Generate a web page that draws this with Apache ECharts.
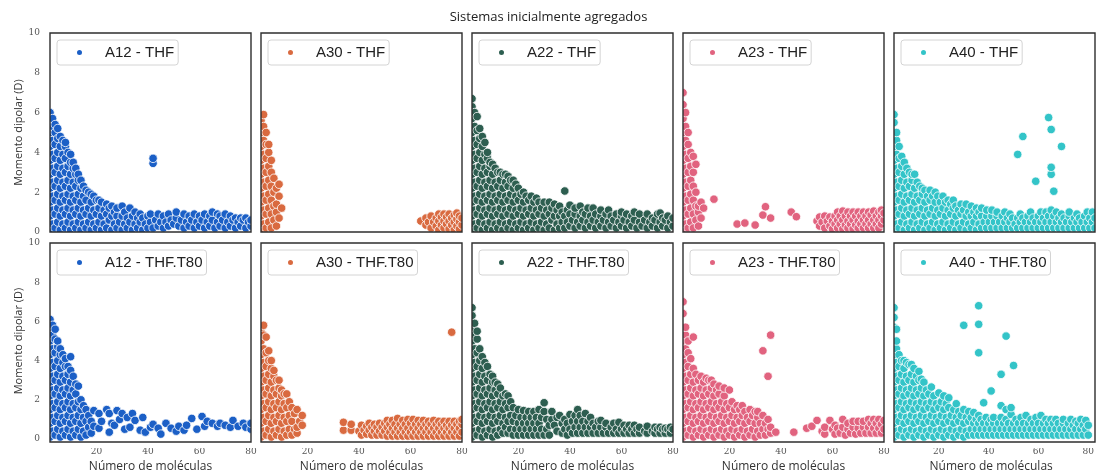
<!DOCTYPE html>
<html><head><meta charset="utf-8">
<script src="https://cdn.jsdelivr.net/npm/echarts@6/dist/echarts.min.js"></script>
<style>html,body{margin:0;padding:0;background:#fff}#c{width:1097px;height:474px}</style>
</head><body><div id="c"></div>
<script>
const TITLE = 'Sistemas inicialmente agregados';
const X_NAME = 'Número de moléculas';
const Y_NAME = 'Momento dipolar (D)';
const X_TICKS = [20, 40, 60, 80];
const PANEL_NAMES = ['A12 - THF','A30 - THF','A22 - THF','A23 - THF','A40 - THF',
  'A12 - THF.T80','A30 - THF.T80','A22 - THF.T80','A23 - THF.T80','A40 - THF.T80'];
const COLORS = ['#1b5fc6','#d96a40','#2d5e50','#e1637f','#33c4c8'];

// Each row: [número de moléculas, momento dipolar, momento dipolar, ...]
const A12_THF = [
[2,0.1,0.8,1.5,2.2,2.9,3.6,4.3,5.0,5.6,6.0],[3,0.4,1.1,1.8,2.5,3.2,3.9,4.6,5.3,5.7],[4,0.2,0.9,1.6,2.3,3.0,3.7,4.4,5.0,5.4],
[5,0.5,1.2,1.9,2.6,3.3,4.0,4.7,5.2],[6,0.1,0.8,1.5,2.2,2.9,3.6,4.3,4.8],[7,0.4,1.1,1.8,2.5,3.2,3.9,4.6],[8,0.2,0.9,1.6,2.3,3.0,3.7,4.3,4.5],
[9,0.5,1.2,1.9,2.6,3.3,4.0],[10,0.1,0.8,1.5,2.2,2.9,3.5,3.9],[11,0.4,1.1,1.8,2.5,3.2,3.5],[12,0.2,0.9,1.6,2.3,2.9,3.2],
[13,0.5,1.2,1.9,2.6,2.9],[14,0.1,0.8,1.5,2.2,2.6],[15,0.4,1.1,1.8,2.3],[16,0.2,0.9,1.6,2.1],[17,0.5,1.2,2.0],[18,0.1,0.8,1.5,1.9],
[19,0.4,1.1,1.8],[20,0.2,0.9,1.6],[21,0.5,1.2,1.6],[22,0.1,0.8,1.5],[23,0.4,1.1],[24,0.2,0.9,1.4],[25,0.6,1.2],[26,0.1,0.8,1.3],
[27,0.4,1.0],[28,0.2,0.8,1.2],[29,0.5],[30,0.1,0.8,1.3],[31,0.4,1.0],[32,0.2,0.7],[33,0.5,1.2],[34,0.1,0.8],[35,0.4,1.0],[36,0.2,0.7],
[37,0.5,0.9],[38,0.1,0.7],[39,0.4],[40,0.2,0.8],[41,0.5,0.9],[42,0.2,3.45,3.7],[43,0.6],[44,0.3,0.9],[45,0.5],[46,0.2,0.8],[47,0.5],
[48,0.3,0.9],[49,0.6],[50,0.4],[51,0.7,1.0],[52,0.3],[53,0.6],[54,0.2,0.9],[55,0.5],[56,0.3,0.8],[57,0.6],[58,0.2,0.9],[59,0.5],
[60,0.3,0.8],[61,0.6],[62,0.2,0.9],[63,0.5],[64,0.3,0.8],[65,0.6,1.0],[66,0.2],[67,0.5,0.9],[68,0.3,0.8],[69,0.6],[70,0.2,0.9],
[71,0.5],[72,0.3,0.8],[73,0.6],[74,0.2,0.7],[75,0.5],[76,0.3,0.7],[77,0.6],[78,0.2,0.7],[79,0.5],[80,0.3,0.6]];

const A30_THF = [
[2,0.1,0.8,1.5,2.2,2.9,3.6,4.3,5.0,5.6],[3,0.4,1.1,1.8,2.5,3.2,3.9,4.6,5.3,5.9],[4,0.2,0.9,1.6,2.3,3.0,3.7,4.4,5.0],
[5,0.5,1.2,1.9,2.6,3.3,4.0,4.4],[6,0.2,0.9,1.6,2.3,3.0,3.6],[7,0.6,1.3,2.0,2.7],[8,0.3,1.0,1.4,2.2],[9,0.7,1.8,2.4],[10,1.2],
[64,0.55],[66,0.35,0.7],[67,0.5],[68,0.2,0.8],[69,0.5],[70,0.3,0.7],[71,0.1,0.55,0.9],[72,0.35,0.75],[73,0.2,0.55,0.9],
[74,0.4,0.75],[75,0.15,0.55,0.9],[76,0.35,0.7],[77,0.1,0.5,0.85],[78,0.3,0.65,0.95],[79,0.15,0.5,0.8],[80,0.35,0.7]];

const A22_THF = [
[2,0.1,0.8,1.5,2.2,2.9,3.6,4.3,5.0,5.7,6.3,6.7],[3,0.4,1.1,1.8,2.5,3.2,3.9,4.6,5.3,6.0],[4,0.2,0.9,1.6,2.3,3.0,3.7,4.4,5.1,5.8],
[5,0.5,1.2,1.9,2.6,3.3,4.0,4.7,5.2],[6,0.1,0.8,1.5,2.2,2.9,3.6,4.3,4.8],[7,0.4,1.1,1.8,2.5,3.2,3.9,4.5],[8,0.2,0.9,1.6,2.3,3.0,3.7,4.0],
[9,0.5,1.2,1.9,2.6,3.3,3.5],[10,0.1,0.8,1.5,2.2,2.9,3.4],[11,0.4,1.1,1.8,2.5,3.2],[12,0.2,0.9,1.6,2.3,3.0],[13,0.5,1.2,1.9,2.6,3.0],
[14,0.1,0.8,1.5,2.2,2.9],[15,0.4,1.1,1.8,2.5,2.9],[16,0.2,0.9,1.6,2.3,2.8],[17,0.5,1.2,1.9,2.6],[18,0.1,0.8,1.5,2.2,2.6],
[19,0.4,1.1,1.8,2.4],[20,0.2,0.9,1.6,2.2],[21,0.5,1.2,1.9],[22,0.1,0.8,1.5,2.0],[23,0.4,1.1,1.8],[24,0.2,0.9,1.6],[25,0.5,1.2,1.8],
[26,0.1,0.8,1.5],[27,0.4,1.1,1.7],[28,0.2,0.9,1.5],[29,0.5,1.2],[30,0.1,0.8,1.5],[31,0.4,1.1],[32,0.2,0.9,1.5],[33,0.6,1.2],
[34,0.1,0.8,1.4],[35,0.4,1.1],[36,0.2,0.8,1.3],[37,0.5,1.0],[38,0.2,0.8,2.06],[39,0.5,1.1],[40,0.3,0.9,1.35],[41,0.6],[42,0.2,0.9,1.2],
[43,0.5],[44,0.3,0.8,1.3],[45,0.6,1.0],[46,0.2,0.9],[47,0.5,1.2],[48,0.3,0.8],[49,0.6,1.2],[50,0.2,0.9],[51,0.5],[52,0.3,0.8,1.1],
[53,0.6],[54,0.2,0.9],[55,0.5,1.1],[56,0.3,0.8],[57,0.6],[58,0.2,0.9],[59,0.5],[60,0.3,0.8,1.0],[61,0.6],[62,0.2,0.9],[63,0.5],
[64,0.3,0.8],[65,0.6,1.0],[66,0.2],[67,0.5,0.9],[68,0.3],[69,0.6],[70,0.2,0.9],[71,0.5],[72,0.3,0.7],[73,0.6],[74,0.2,0.9],
[75,0.5,0.95],[76,0.3,0.7],[77,0.6],[78,0.2,0.8],[79,0.5],[80,0.3,0.7]];

const A23_THF = [
[2,0.1,0.8,1.5,2.2,2.9,3.6,4.3,5.0,5.7,6.4,7.0],[3,0.4,1.1,1.8,2.5,3.2,3.9,4.6,5.3,6.0],[4,0.2,0.9,1.6,2.3,3.0,3.7,4.4,5.0],
[5,0.5,1.2,1.9,2.6,3.3,4.0],[6,0.2,0.9,1.6,2.3,3.0,3.8],[7,0.6,1.3,2.0,3.4],[8,0.3,1.0,1.3],[9,0.7,1.5],[10,1.2],[14,1.65],
[23,0.4],[26,0.45],[30,0.35],[33,0.85],[34,1.27],[36,0.7],[44,1.0],[46,0.77],
[54,0.55],[55,0.3,0.75],[56,0.5],[57,0.2,0.8],[58,0.55],[59,0.3,0.75],[60,0.15,0.55],[61,0.4,0.8],[62,0.2,0.6,1.0],[63,0.4,0.8],
[64,0.15,0.6,1.05],[65,0.35,0.8],[66,0.2,0.55,1.0],[67,0.4,0.8],[68,0.15,0.6,1.0],[69,0.35,0.8],[70,0.2,0.55,1.0],[71,0.4,0.8],
[72,0.2,0.6,1.0],[73,0.4,0.8],[74,0.2,0.6,1.0],[75,0.4,0.85],[76,0.2,0.6,1.05],[77,0.4,0.8],[78,0.2,0.6,1.0],[79,0.4,0.8,1.1],[80,0.6,0.95]];

const A40_THF = [
[2,0.1,0.8,1.5,2.2,2.9,3.6,4.3,5.0,5.5,5.9],[3,0.4,1.1,1.8,2.5,3.2,3.9,4.6,5.0],[4,0.2,0.9,1.6,2.3,3.0,3.7,4.3],[5,0.5,1.2,1.9,2.6,3.3,3.8],
[6,0.1,0.8,1.5,2.2,2.9,3.5],[7,0.4,1.1,1.8,2.5,3.2],[8,0.2,0.9,1.6,2.3,3.0],[9,0.5,1.2,1.9,2.6,2.9],[10,0.1,0.8,1.5,2.2,2.9],
[11,0.4,1.1,1.8,2.5],[12,0.2,0.9,1.6,2.3],[13,0.5,1.2,1.9,2.2],[14,0.1,0.8,1.5,2.1],[15,0.4,1.1,1.8],[16,0.2,0.9,1.6,2.1],[17,0.5,1.2,1.8],
[18,0.1,0.8,1.5,2.0],[19,0.4,1.1,1.8],[20,0.2,0.9,1.5],[21,0.5,1.2,1.8],[22,0.1,0.8,1.5],[23,0.4,1.1,1.6],[24,0.2,0.9,1.4],[25,0.5,1.2,1.6],
[26,0.1,0.8,1.3],[27,0.4,1.1],[28,0.2,0.9,1.4],[29,0.5,1.1],[30,0.1,0.8,1.4],[31,0.4,1.0],[32,0.2,0.8,1.3],[33,0.5,1.0],[34,0.1,0.8,1.2],
[35,0.4,1.0],[36,0.2,0.8,1.2],[37,0.5],[38,0.2,0.8,1.1],[39,0.5],[40,0.2,0.8,1.1],[41,0.5],[42,0.2,0.8,1.0],[43,0.5],[44,0.2,0.8],
[45,0.5,1.0],[46,0.2,0.7],[47,0.5,0.9],[48,0.2,0.7],[49,0.4],[50,0.2,0.7,3.9],[51,0.5,0.9],[52,0.2,0.7,4.8],[53,0.5],[54,0.2,0.8],
[55,0.5,1.0],[56,0.2,0.7],[57,0.5,2.55],[58,0.2,0.8],[59,0.5,1.0],[60,0.2,0.7],[61,0.5,1.0],[62,0.2,0.8,5.75],[63,0.5,1.1,2.9,3.25,5.15],
[64,0.2,0.8,2.05],[65,0.5,1.0],[66,0.2,0.7],[67,0.5,0.9,4.3],[68,0.2,0.7],[69,0.5],[70,0.2,0.8,1.0],[71,0.5],[72,0.2,0.7],[73,0.5,0.9],
[74,0.2,0.7],[75,0.5],[76,0.2,0.8],[77,0.5,1.0],[78,0.2,0.7],[79,0.5,1.0],[80,0.2,0.7]];

const A12_T80 = [
[2,0.1,0.8,1.5,2.2,2.9,3.6,4.3,5.0,5.6,6.1],[3,0.4,1.1,1.8,2.5,3.2,3.9,4.6,5.3,5.8],[4,0.2,0.9,1.6,2.3,3.0,3.7,4.4,5.1,5.6],
[5,0.5,1.2,1.9,2.6,3.3,4.0,4.7,5.0],[6,0.1,0.8,1.5,2.2,2.9,3.6,4.3,4.6],[7,0.4,1.1,1.8,2.5,3.2,3.9,4.3],[8,0.2,0.9,1.6,2.3,3.0,3.7,4.1],
[9,0.5,1.2,1.9,2.6,3.3,3.7],[10,0.1,0.8,1.5,2.2,2.9,3.5,4.2],[11,0.4,1.1,1.8,2.5,3.2],[12,0.2,0.9,1.6,2.3,2.8],[13,0.5,1.2,1.9,2.7],
[14,0.1,0.8,1.5,2.0],[15,0.4,1.1,1.7],[16,0.2,0.9,1.5],[17,0.6,1.2],[18,0.3,0.9],
[19,0.65,1.45],[21,0.55,1.3],[22,0.9],[24,1.5],[25,0.35,1.3],[26,0.8],[27,0.7],[28,1.45],[29,1.0],[30,1.3],[31,0.5],[32,1.1],[33,0.6],
[34,1.3],[35,0.95],[37,0.45],[38,1.1],[39,0.35],[41,0.6],[42,0.75],[44,0.55],[45,0.25],[47,0.8],[49,0.55],[51,0.4],[52,0.65],[54,0.45],
[55,0.7],[57,1.05],[59,0.5],[61,1.15],[62,0.65],[63,0.9],[65,0.8],[67,0.65],[68,0.8],[70,0.7],[72,0.6],[73,0.95],[75,0.65],[77,0.8],
[78,0.6],[80,0.5,0.8]];

const A30_T80 = [
[2,0.1,0.8,1.5,2.2,2.9,3.6,4.3,5.0,5.6],[3,0.4,1.1,1.8,2.5,3.2,3.9,4.6,5.3,5.8],[4,0.2,0.9,1.6,2.3,3.0,3.7,4.4,5.2],
[5,0.5,1.2,1.9,2.6,3.3,4.0,4.5],[6,0.1,0.8,1.5,2.2,2.9,3.6,4.0],[7,0.4,1.1,1.8,2.5,3.2,3.5],[8,0.2,0.9,1.6,2.3,3.0],
[9,0.5,1.2,1.9,2.6,3.0],[10,0.1,0.8,1.5,2.2,2.5],[11,0.4,1.1,1.8,2.3],[12,0.2,0.9,1.6,2.3],[13,0.5,1.2,1.9],[14,0.2,0.9,1.6],
[15,0.5,1.3],[16,0.3,0.6,1.5],[17,0.9],[18,0.7,1.2],
[34,0.45,0.85],[37,0.45,0.75],[40,0.4],[41,0.2,0.7],[42,0.45],[43,0.25,0.65],[44,0.45,0.8],[45,0.2,0.6],[46,0.4,0.75],[47,0.2,0.6],
[48,0.4,0.8],[49,0.2,0.6],[50,0.4,0.8],[51,0.15,0.6,0.95],[52,0.35,0.75],[53,0.15,0.55,0.95],[54,0.35,0.75],[55,0.15,0.55,1.05],
[56,0.35,0.75],[57,0.15,0.55,0.95],[58,0.35,0.75],[59,0.15,0.55,1.0],[60,0.35,0.8],[61,0.15,0.55,1.0],[62,0.35,0.75],[63,0.15,0.55,0.95],
[64,0.35,0.75],[65,0.15,0.55,0.95],[66,0.35,0.75],[67,0.15,0.55,0.9],[68,0.35,0.75],[69,0.15,0.55,0.95],[70,0.35,0.75],[71,0.15,0.55,0.9],
[72,0.35,0.75],[73,0.15,0.55,0.9],[74,0.35,0.7],[75,0.15,0.55,0.9],[76,0.35,0.7,5.45],[77,0.15,0.55,0.9],[78,0.35,0.75],[79,0.15,0.55,0.9],
[80,0.35,0.75,1.0]];

const A22_T80 = [
[2,0.1,0.8,1.5,2.2,2.9,3.6,4.3,5.0,5.7,6.3,6.7],[3,0.4,1.1,1.8,2.5,3.2,3.9,4.6,5.3,5.9],[4,0.2,0.9,1.6,2.3,3.0,3.7,4.4,5.1,5.5],
[5,0.5,1.2,1.9,2.6,3.3,4.0,4.6],[6,0.1,0.8,1.5,2.2,2.9,3.6,4.2],[7,0.4,1.1,1.8,2.5,3.2,3.9],[8,0.2,0.9,1.6,2.3,3.0,3.7],
[9,0.5,1.2,1.9,2.6,3.3],[10,0.1,0.8,1.5,2.2,2.9,3.2],[11,0.4,1.1,1.8,2.5,2.9],[12,0.2,0.9,1.6,2.3,2.8],[13,0.5,1.2,1.9,2.6],
[14,0.3,0.8,1.5,2.2],[15,0.6,1.1,1.8,2.3],[16,0.3,0.9,1.6,2.2],[17,0.5,1.2,1.9],[18,0.2,0.9,1.6],[19,0.5,1.2],[20,0.2,0.8,1.5],
[21,0.5,1.1],[22,0.2,0.8,1.45],[23,0.5,1.1],[24,0.2,0.8,1.4],[25,0.5,1.1],[26,0.2,0.8,1.4],[27,0.5,1.1],[28,0.2,0.8,1.5],[29,0.5,1.1],
[30,0.2,1.4,1.85],[31,0.5,1.0],[32,0.2,0.7],[33,1.0,1.4],[34,0.7],[35,0.4,1.1],[36,1.2],[37,0.3,0.8],[38,0.5,1.0],[39,0.2,0.8],
[40,0.5,1.25],[41,0.3,0.9],[42,0.6,1.2],[43,0.3,0.9,1.5],[44,0.6,1.2],[45,0.3,0.9],[46,0.6,1.3],[47,0.3,0.9],[48,0.6,1.1],[49,0.3,0.8],
[50,0.6],[51,0.3,0.9],[52,0.6,0.95],[53,0.3],[54,0.6,0.8],[55,0.3],[56,0.6],[57,0.3,0.8],[58,0.5],[59,0.3,0.85],[60,0.5],[61,0.3,0.7],
[62,0.5],[63,0.3,0.7],[64,0.5],[65,0.3,0.7],[66,0.5],[67,0.3,0.6],[69,0.4],[70,0.3,0.65],[72,0.4],[73,0.3,0.6],[74,0.5],[75,0.3,0.6],
[76,0.5],[77,0.3,0.55],[78,0.5],[79,0.3,0.6],[80,0.5]];

const A23_T80 = [
[2,0.1,0.8,1.5,2.2,2.9,3.6,4.3,5.0,5.7,6.4,7.0],[3,0.4,1.1,1.8,2.5,3.2,3.9,4.6,5.3,5.7],[4,0.2,0.9,1.6,2.3,3.0,3.7,4.4,5.0],
[5,0.5,1.2,1.9,2.6,3.3,4.1],[6,0.1,0.8,1.5,2.2,2.9,3.6,5.2],[7,0.4,1.1,1.8,2.5,3.3],[8,0.2,0.9,1.6,2.3,3.0],[9,0.5,1.2,1.9,2.6,3.2],
[10,0.1,0.8,1.5,2.2,2.9],[11,0.4,1.1,1.8,2.5,3.1],[12,0.2,0.9,1.6,2.3,3.0],[13,0.5,1.2,1.9,2.6,3.0],[14,0.1,0.8,1.5,2.2,2.8],
[15,0.4,1.1,1.8,2.5],[16,0.2,0.9,1.6,2.3,2.7],[17,0.5,1.2,1.9],[18,0.1,0.8,1.5,2.2,2.6],[19,0.4,1.1,1.8],[20,0.2,0.9,1.6,2.5],
[21,0.5,1.2,1.9],[22,0.1,0.8,1.5],[23,0.4,1.1,1.7],[24,0.2,0.9,1.5],[25,0.5,1.2,1.7],[26,0.1,0.8,1.4],[27,0.4,1.1],[28,0.2,0.9,1.5],
[29,0.5,1.2],[30,0.1,0.8,1.4],[31,0.4,1.1,1.4],[32,0.2,0.8],[33,0.5,1.2,4.5],[34,0.2,0.8],[35,0.5,1.0,3.2],[36,0.3,0.6,5.3],[38,0.35],
[45,0.35],[50,0.55],[52,0.65],[54,0.95],[56,0.4],[57,0.25,0.6],[59,0.95],[60,0.5],[61,0.25,0.7],[62,0.55],[63,0.3],[64,0.6,1.0],
[65,0.2],[66,0.5,0.8],[67,0.3],[68,0.6,0.9],[69,0.25],[70,0.55,0.9],[71,0.3],[72,0.6,0.9],[73,0.3],[74,0.6,1.0],[75,0.3,0.8],
[76,0.55,1.0],[77,0.3,0.8],[78,0.55,1.0],[79,0.3,0.75],[80,0.5,0.95]];

const A40_T80 = [
[2,0.1,0.8,1.5,2.2,2.9,3.6,4.3,5.0,5.7,6.2,6.7],[3,0.4,1.1,1.8,2.5,3.2,3.9,4.6,5.0,5.6],[4,0.2,0.9,1.6,2.3,3.0,3.7,4.3],
[5,0.5,1.2,1.9,2.6,3.3,4.0],[6,0.1,0.8,1.5,2.2,2.9,3.6,4.0],[7,0.4,1.1,1.8,2.5,3.2,3.9],[8,0.2,0.9,1.6,2.3,3.0,3.8],
[9,0.5,1.2,1.9,2.6,3.3,3.8],[10,0.1,0.8,1.5,2.2,2.9,3.6],[11,0.4,1.1,1.8,2.5,3.2],[12,0.2,0.9,1.6,2.3,3.0,3.45],[13,0.5,1.2,1.9,2.6,3.05],
[14,0.1,0.8,1.5,2.2,2.9],[15,0.4,1.1,1.8,2.5],[16,0.2,0.9,1.6,2.3],[17,0.5,1.2,1.9,2.65],[18,0.1,0.8,1.5,2.2],[19,0.4,1.1,1.8],
[20,0.2,0.9,1.6,2.35],[21,0.5,1.2,1.9],[22,0.1,0.8,1.5,2.2],[23,0.4,1.1,1.8],[24,0.2,0.9,1.6,2.1],[25,0.5,1.2],[26,0.1,0.8,1.5],
[27,0.4,1.1,1.8],[28,0.2,0.9,1.4],[29,0.5,1.2],[30,0.1,0.8,1.5,5.8],[31,0.4,1.1],[32,0.2,0.9,1.4],[33,0.5,1.1],[34,0.2,0.8,1.35],
[35,0.5,1.0],[36,0.2,0.8,1.2,4.4,5.85,6.8],[37,0.5,1.0],[38,0.2,0.8,1.85],[39,0.5,1.1],[40,0.2,0.8],[41,0.5,1.0,2.45],[42,0.2,0.8,1.1],
[43,0.5],[44,0.2,0.8],[45,0.5,1.1,1.7,3.3],[46,0.2,0.8],[47,0.5,1.0,1.5,5.25],[48,0.2,0.8],[49,0.5,1.25,1.6],[50,0.2,0.8,3.75],
[51,0.5,1.0],[52,0.2,0.8],[53,0.5,1.1],[54,0.2,0.8],[55,0.5,1.2],[56,0.2,0.8],[57,0.5,1.0],[58,0.2,0.8],[59,0.5,1.1],[60,0.2,0.8],
[61,0.5,1.2],[62,0.2,0.8],[63,0.5,1.0],[64,0.2,0.8],[65,0.5,1.0],[66,0.2,0.8],[67,0.5,1.0],[68,0.2,0.8],[69,0.5],[70,0.2,0.8,1.0],
[71,0.5],[72,0.2,0.8],[73,0.5,1.0],[74,0.2,0.7],[75,0.5,0.9],[76,0.2,0.8],[77,0.5,1.0],[78,0.2,0.7],[79,0.5,0.95],[80,0.2,0.7]];

const SERIES_DATA = [A12_THF, A30_THF, A22_THF, A23_THF, A40_THF, A12_T80, A30_T80, A22_T80, A23_T80, A40_T80];

function toPairs(rows) {
  const out = [];
  rows.forEach(r => { for (let i = 1; i < r.length; i++) out.push([r[0], r[i]]); });
  return out;
}

const PANEL_W = 201, PANEL_H = 199, LEFT0 = 50, STEP = 211, TOPS = [33, 243];
const grids = [], xAxes = [], yAxes = [], series = [], legends = [], graphics = [];
for (let i = 0; i < 10; i++) {
  const col = i % 5, row = Math.floor(i / 5);
  const left = LEFT0 + col * STEP, top = TOPS[row];
  grids.push({ left: left, top: top, width: PANEL_W, height: PANEL_H, show: false });
  xAxes.push({ type: 'value', gridIndex: i, min: 2, max: 80,
    axisLine: { show: false }, axisTick: { show: false }, splitLine: { show: false },
    axisLabel: { show: row === 1, customValues: X_TICKS, fontFamily: 'DejaVu Serif', fontSize: 9, color: '#555', margin: 8 },
    name: row === 1 ? X_NAME : '', nameLocation: 'middle', nameGap: 22,
    nameTextStyle: { fontFamily: 'Open Sans', fontSize: 12, color: '#333' } });
  yAxes.push({ type: 'value', gridIndex: i, min: 0, max: 10, interval: 2,
    axisLine: { show: false }, axisTick: { show: false }, splitLine: { show: false },
    axisLabel: { show: col === 0, fontFamily: 'DejaVu Serif', fontSize: 9, color: '#555', margin: 10 },
    name: col === 0 ? Y_NAME : '', nameLocation: 'middle', nameRotate: 90, nameGap: 23,
    nameTextStyle: { fontFamily: 'Open Sans', fontSize: 11, color: '#333' } });
  series.push({ type: 'scatter', name: PANEL_NAMES[i], xAxisIndex: i, yAxisIndex: i,
    data: toPairs(SERIES_DATA[i]), symbolSize: 8.5, clip: true, animation: false,
    itemStyle: { color: COLORS[col], borderColor: '#ffffff', borderWidth: 0.8, opacity: 1 } });
  legends.push({ data: [PANEL_NAMES[i]], left: left + 7, top: top + 7, orient: 'vertical', z: 120,
    icon: 'circle', itemWidth: 7, itemHeight: 7,
    backgroundColor: 'rgba(255,255,255,0.85)', borderColor: '#d4d4d4', borderWidth: 1, borderRadius: 3,
    padding: [5, 4, 5, 18],
    textStyle: { fontFamily: 'Liberation Sans', fontSize: 15, color: '#222', padding: [0, 0, 0, 17] },
    selectedMode: false });
}

// white masks outside the panel frames (emulate clipping of marks), then frames on top
const MASK = { fill: '#ffffff' };
TOPS.forEach((top, row) => {
  graphics.push({ type: 'rect', silent: true, z: 100, shape: { x: 41, y: top - 6, width: LEFT0 - 41, height: PANEL_H + 12 }, style: MASK });
  for (let c = 0; c < 5; c++) {
    const x = LEFT0 + c * STEP + PANEL_W;
    graphics.push({ type: 'rect', silent: true, z: 100, shape: { x: x, y: top - 6, width: STEP - PANEL_W, height: PANEL_H + 12 }, style: MASK });
  }
  graphics.push({ type: 'rect', silent: true, z: 100, shape: { x: 41, y: top + PANEL_H, width: 1060, height: row === 0 ? TOPS[1] - TOPS[0] - PANEL_H : 6 }, style: MASK });
});
for (let i = 0; i < 10; i++) {
  const col = i % 5, row = Math.floor(i / 5);
  graphics.push({ type: 'rect', silent: true, z: 101,
    shape: { x: LEFT0 + col * STEP, y: TOPS[row], width: PANEL_W, height: PANEL_H },
    style: { fill: 'none', stroke: '#2e2e2e', lineWidth: 1.4 } });
}

const chart = echarts.init(document.getElementById('c'), null, { renderer: 'canvas' });
chart.setOption({
  backgroundColor: '#ffffff',
  animation: false,
  title: { text: TITLE, left: 'center', top: 6,
    textStyle: { fontFamily: 'Open Sans', fontSize: 13, fontWeight: 'normal', color: '#222' } },
  grid: grids, xAxis: xAxes, yAxis: yAxes, series: series, legend: legends,
  graphic: { elements: graphics }
});
</script>
</body></html>
